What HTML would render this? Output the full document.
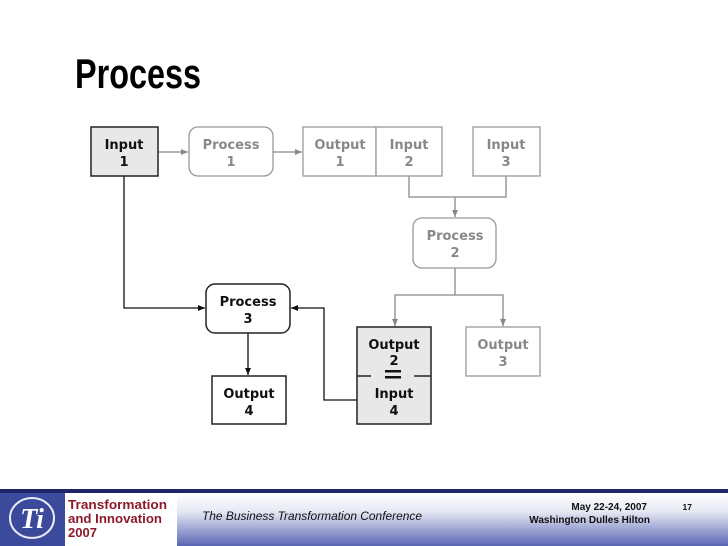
<!DOCTYPE html>
<html><head><meta charset="utf-8"><style>
html,body{margin:0;padding:0;background:#fff}
svg{display:block}
</style></head><body>
<svg width="728" height="546" viewBox="0 0 728 546" xmlns="http://www.w3.org/2000/svg">
<defs>
<linearGradient id="fg" x1="0" y1="0" x2="0" y2="1">
<stop offset="0" stop-color="#ffffff"/><stop offset="0.35" stop-color="#e6e8f4"/><stop offset="1" stop-color="#5a66b4"/>
</linearGradient>
<marker id="ag" markerWidth="8" markerHeight="8" refX="7" refY="4" orient="auto" markerUnits="userSpaceOnUse"><path d="M0,1 L7,4 L0,7z" fill="#888"/></marker>
<marker id="ab" markerWidth="8" markerHeight="8" refX="7" refY="4" orient="auto" markerUnits="userSpaceOnUse"><path d="M0,1 L7,4 L0,7z" fill="#111"/></marker>
</defs>
<text x="75" y="88" font-family="Liberation Sans, sans-serif" font-weight="bold" font-size="42" textLength="126" lengthAdjust="spacingAndGlyphs">Process</text>

<g font-family="DejaVu Sans, Verdana, sans-serif" font-weight="bold" font-size="13" text-anchor="middle">
<g fill="none" stroke="#888" stroke-width="1.3">
<line x1="158" y1="152" x2="188" y2="152" marker-end="url(#ag)"/>
<line x1="273" y1="152" x2="302" y2="152" marker-end="url(#ag)"/>
<polyline points="409,176 409,197 506,197 506,176"/>
<line x1="455" y1="197" x2="455" y2="217" marker-end="url(#ag)"/>
<line x1="455" y1="268" x2="455" y2="295"/>
<polyline points="395,326 395,295 503,295 503,326" />
<line x1="395" y1="318" x2="395" y2="326" marker-end="url(#ag)"/>
<line x1="503" y1="318" x2="503" y2="326" marker-end="url(#ag)"/>
</g>
<g fill="none" stroke="#111" stroke-width="1.3">
<polyline points="124,176 124,308 205,308" marker-end="url(#ab)"/>
<polyline points="357,400 324,400 324,308 291,308" marker-end="url(#ab)"/>
<line x1="248" y1="333" x2="248" y2="375" marker-end="url(#ab)"/>
</g>
<g fill="#fff" stroke="#999" stroke-width="1.3">
<rect x="189" y="127" width="84" height="49" rx="9"/>
<rect x="303" y="127" width="73" height="49"/>
<rect x="376" y="127" width="66" height="49"/>
<rect x="473" y="127" width="67" height="49"/>
<rect x="413" y="218" width="83" height="50" rx="9"/>
<rect x="466" y="327" width="74" height="49"/>
</g>
<g fill="#888">
<text x="231" y="149">Process</text><text x="231" y="166">1</text>
<text x="340" y="149">Output</text><text x="340" y="166">1</text>
<text x="409" y="149">Input</text><text x="409" y="166">2</text>
<text x="506" y="149">Input</text><text x="506" y="166">3</text>
<text x="455" y="240">Process</text><text x="455" y="257">2</text>
<text x="503" y="349">Output</text><text x="503" y="366">3</text>
</g>
<g stroke="#222" stroke-width="1.5">
<rect x="91" y="127" width="67" height="49" fill="#e8e8e8"/>
<rect x="206" y="284" width="84" height="49" rx="9" fill="#fff"/>
<rect x="212" y="376" width="74" height="48" fill="#fff"/>
<rect x="357" y="327" width="74" height="97" fill="#e8e8e8"/>
<line x1="357" y1="376" x2="371" y2="376"/><line x1="414" y1="376" x2="431" y2="376"/>
</g>
<g fill="#111">
<text x="124" y="149">Input</text><text x="124" y="166">1</text>
<text x="248" y="306">Process</text><text x="248" y="323">3</text>
<text x="249" y="398">Output</text><text x="249" y="415">4</text>
<text x="394" y="349">Output</text><text x="394" y="365">2</text>
<rect x="385" y="370" width="16" height="2.5"/><rect x="385" y="376" width="16" height="2.5"/>
<text x="394" y="398">Input</text><text x="394" y="415">4</text>
</g>
</g>

<rect x="0" y="489" width="728" height="4" fill="#1e2466"/>
<rect x="0" y="493" width="728" height="53" fill="url(#fg)"/>
<rect x="0" y="493" width="65" height="53" fill="#3c4a9c"/>
<ellipse cx="32" cy="518" rx="22" ry="20" fill="none" stroke="#e8ecf8" stroke-width="2"/>
<text x="32" y="528" font-family="Liberation Serif, serif" font-style="italic" font-weight="bold" font-size="28" fill="#fff" text-anchor="middle">Ti</text>
<rect x="65" y="493" width="112" height="53" fill="#fff"/>
<g font-family="Liberation Sans, sans-serif" font-weight="bold" font-size="13" fill="#8c1a2a">
<text x="68" y="509" textLength="99" lengthAdjust="spacingAndGlyphs">Transformation</text>
<text x="68" y="523" textLength="94" lengthAdjust="spacingAndGlyphs">and Innovation</text>
<text x="68" y="537">2007</text>
</g>
<text x="202" y="520" font-family="Liberation Sans, sans-serif" font-style="italic" font-size="12" fill="#111" textLength="220" lengthAdjust="spacingAndGlyphs">The Business Transformation Conference</text>
<g font-family="Liberation Sans, sans-serif" font-weight="bold" font-size="10" fill="#111" text-anchor="end">
<text x="647" y="510">May 22-24, 2007</text>
<text x="650" y="523">Washington Dulles Hilton</text>
<text x="692" y="510" font-size="8.5">17</text>
</g>
</svg>
</body></html>
